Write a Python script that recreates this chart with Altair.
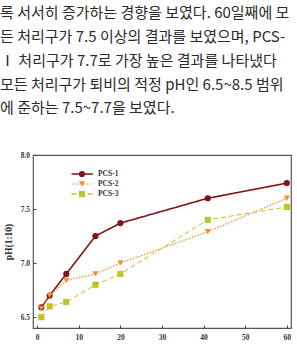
import altair as alt
import pandas as pd

# ---- data ----
days = [1, 3, 7, 14, 20, 41, 60]
pcs1 = [6.59, 6.70, 6.90, 7.25, 7.37, 7.60, 7.74]
pcs2 = [6.58, 6.70, 6.84, 6.90, 7.00, 7.29, 7.60]
pcs3 = [6.50, 6.60, 6.64, 6.80, 6.90, 7.40, 7.52]
series = ["PCS-1", "PCS-2", "PCS-3"]
colors = ["#7d1418", "#f0903a", "#bcc426"]
shapes = ["circle", "triangle-down", "square"]
dashes = [[1, 0], [1.5, 1.5], [5, 3]]
widths = [1.6, 1.0, 1.3]
x_ticks = [0, 10, 20, 30, 40, 50, 60]
y_ticks = [6.5, 7.0, 7.5, 8.0]
paragraph = [
    "록 서서히 증가하는 경향을 보였다. 60일째에 모",
    "든 처리구가 7.5 이상의 결과를 보였으며, PCS-",
    " Ⅰ  처리구가 7.7로 가장 높은 결과를 나타냈다",
    "모든 처리구가 퇴비의 적정 pH인 6.5~8.5 범위",
    "에 준하는 7.5~7.7을 보였다.",
]

rows = []
for name, vals in zip(series, [pcs1, pcs2, pcs3]):
    for d, v in zip(days, vals):
        rows.append({"day": d, "pH": v, "series": name})
df = pd.DataFrame(rows)

W, H = 258, 173
PL, PT = 33, 155
serif = "Liberation Serif"

x_enc = alt.X("day:Q", scale=alt.Scale(domain=[-1, 61], nice=False),
              axis=alt.Axis(values=x_ticks, title=None, grid=False, domain=False,
                            tickSize=3, offset=-3, labelPadding=5, format="d",
                            labelFont=serif, labelFontWeight="bold", labelFontSize=7.5,
                            labelColor="#333", tickColor="#444"))
y_enc = alt.Y("pH:Q", scale=alt.Scale(domain=[6.4, 8.0], nice=False, zero=False),
              axis=alt.Axis(values=y_ticks, title="pH(1:10)", grid=False, domain=False,
                            tickSize=3, offset=-3, labelPadding=3.5, format=".1f",
                            labelFont=serif, labelFontWeight="bold", labelFontSize=7.5,
                            labelColor="#333", tickColor="#444",
                            titleFont=serif, titleFontWeight="bold", titleFontSize=9.5,
                            titleColor="#333", titlePadding=7))
color_enc = alt.Color("series:N", scale=alt.Scale(domain=series, range=colors), legend=None)

lines = alt.Chart(df).mark_line().encode(
    x=x_enc, y=y_enc, color=color_enc,
    strokeDash=alt.StrokeDash("series:N", scale=alt.Scale(domain=series, range=dashes), legend=None),
    strokeWidth=alt.StrokeWidth("series:N", scale=alt.Scale(domain=series, range=widths), legend=None),
)
points = alt.Chart(df).mark_point(filled=True, size=38, opacity=1).encode(
    x="day:Q", y="pH:Q", color=color_enc,
    shape=alt.Shape("series:N", scale=alt.Scale(domain=series, range=shapes), legend=None),
)

layers = [lines, points]

# manual legend
leg_rows = [19, 29, 39]
for name, col, shp, dsh, wd, yy in zip(series, colors, shapes, dashes, widths, leg_rows):
    ld = pd.DataFrame({"label": [name]})
    layers.append(alt.Chart(ld).mark_rule(color=col, strokeDash=dsh, strokeWidth=wd).encode(
        x=alt.value(38.5), x2=alt.value(60), y=alt.value(yy)))
    layers.append(alt.Chart(ld).mark_point(filled=True, size=38, opacity=1, color=col, shape=shp).encode(
        x=alt.value(49), y=alt.value(yy)))
    layers.append(alt.Chart(ld).mark_text(align="left", baseline="middle", font=serif,
                                          fontWeight="bold", fontSize=7.5, color="#333").encode(
        x=alt.value(65), y=alt.value(yy), text="label:N"))

# paragraph text above the chart
line_y = [13, 37, 61, 85, 108]
for txt, yy in zip(paragraph, line_y):
    td = pd.DataFrame({"t": [txt]})
    layers.append(alt.Chart(td).mark_text(align="left", baseline="middle",
                                          font="Noto Sans CJK KR", fontSize=15,
                                          color="#2a2a2a").encode(
        x=alt.value(-PL), y=alt.value(yy - PT), text="t:N"))

chart = alt.layer(*layers).properties(
    width=W, height=H,
    autosize=alt.AutoSizeParams(type="none"),
    padding={"left": PL, "top": PT, "right": 297 - PL - W, "bottom": 347 - PT - H},
    background="white",
).configure_view(stroke="#555", strokeWidth=1.2)

chart.save("out.html", embed_options={"renderer": "svg", "actions": False})
